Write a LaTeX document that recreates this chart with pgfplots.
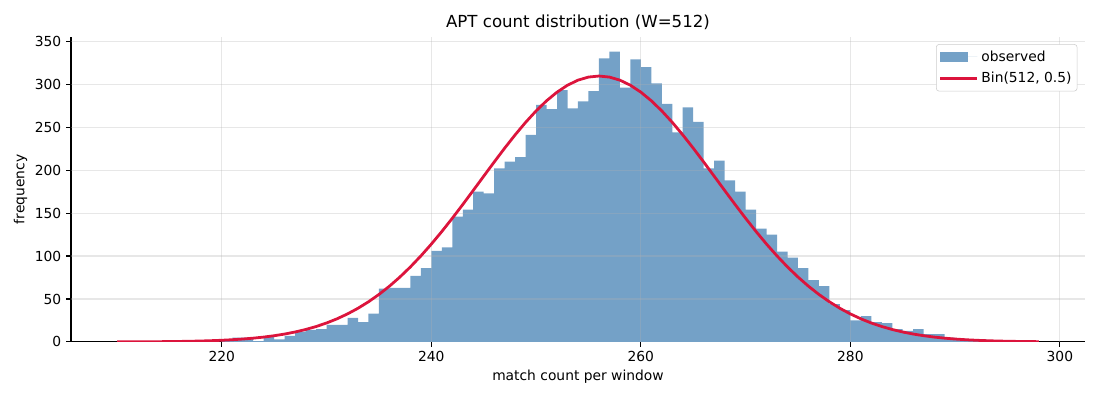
\documentclass[border=0pt]{standalone}
\usepackage{pgfplots}
\pgfplotsset{compat=1.18}
\usepackage{pgfplotstable}
\usepackage{fontspec}
\setmainfont{DejaVu Sans}
\definecolor{barblue}{RGB}{116,161,199}
\definecolor{crim}{RGB}{220,20,60}
\definecolor{gridc}{RGB}{176,176,176}

\pgfplotstableread{
x y
220 1
221 5
222 5
223 1
224 6
225 3
226 7
227 12
228 14
229 15
230 20
231 20
232 28
233 23
234 33
235 62
236 63
237 63
238 77
239 86
240 106
241 110
242 146
243 154
244 175
245 173
246 202
247 210
248 215
249 241
250 276
251 271
252 293
253 272
254 280
255 292
256 330
257 338
258 296
259 329
260 320
261 301
262 277
263 244
264 273
265 256
266 202
267 211
268 188
269 175
270 154
271 132
272 125
273 105
274 98
275 86
276 72
277 65
278 44
279 37
280 25
281 30
282 23
283 22
284 15
285 13
286 15
287 9
288 9
289 5
290 4
291 3
292 3
293 3
}\histdata

\pgfplotstableread{
x y
210 0.08
211 0.11
212 0.16
213 0.23
214 0.32
215 0.44
216 0.60
217 0.81
218 1.10
219 1.48
220 1.96
221 2.59
222 3.39
223 4.40
224 5.67
225 7.25
226 9.20
227 11.58
228 14.48
229 17.94
230 22.07
231 26.94
232 32.62
233 39.20
234 46.73
235 55.28
236 64.87
237 75.56
238 87.30
239 100.09
240 113.86
241 128.52
242 143.93
243 159.94
244 176.35
245 192.92
246 209.42
247 225.56
248 241.04
249 255.59
250 268.90
251 280.70
252 290.75
253 298.81
254 304.70
255 308.29
256 309.50
257 308.29
258 304.70
259 298.81
260 290.75
261 280.70
262 268.90
263 255.59
264 241.04
265 225.56
266 209.42
267 192.92
268 176.35
269 159.94
270 143.93
271 128.52
272 113.86
273 100.09
274 87.30
275 75.56
276 64.87
277 55.28
278 46.73
279 39.20
280 32.62
281 26.94
282 22.07
283 17.94
284 14.48
285 11.58
286 9.20
287 7.25
288 5.67
289 4.40
290 3.39
291 2.59
292 1.96
293 1.48
294 1.10
295 0.81
296 0.60
297 0.44
298 0.32
}\curvedata

\begin{document}
\begin{tikzpicture}
\path[use as bounding box] (0,0) rectangle (792bp,288bp);
\begin{axis}[
  at={(51.1bp,41.8bp)}, anchor=south west,
  scale only axis=true,
  width=730.1bp, height=219.6bp,
  xmin=205.6, xmax=302.4,
  ymin=0, ymax=355,
  xtick={220,240,...,300},
  ytick={0,50,...,350},
  axis x line*=bottom, axis y line*=left,
  axis line style={line width=0.8bp, black},
  every outer x axis line/.append style={-}, every outer y axis line/.append style={-},
  tick align=outside, major tick length=3.5bp,
  tick style={line width=0.8bp, black},
  tick label style={font=\fontsize{10}{12}\selectfont},
  /pgf/number format/assume math mode=true,
  /pgf/number format/1000 sep={},
  every axis title shift=0pt,
  title={APT count distribution (W=512)},
  title style={font=\fontsize{12}{14}\selectfont, at={(axis description cs:0.5,1)}, anchor=center, yshift=10.3bp},
  xlabel={match count per window},
  x label style={font=\fontsize{10}{12}\selectfont, at={(axis description cs:0.5,0)}, anchor=center, yshift=-25.2bp},
  ylabel={frequency},
  y label style={font=\fontsize{10}{12}\selectfont, at={(axis description cs:-0.0496,0.5)}, anchor=center},
  legend style={at={(axis description cs:1,1)}, anchor=north east, xshift=-5.5bp, yshift=-5.2bp,
    draw=black!20, rounded corners=2bp, fill=white, font=\fontsize{10}{12}\selectfont,
    inner xsep=2bp, inner ysep=2.5bp, row sep=2.5bp},
  legend cell align=left,
]
\addplot[const plot mark left, fill=barblue, draw=none,
  legend image code/.code={\fill[barblue, sharp corners] (0bp,-3.3bp) rectangle (20bp,3.3bp); \path (0bp,0bp) -- (26.5bp,0bp);}]
  table[x=x,y=y]{\histdata} \closedcycle;
\addlegendentry{observed}
\pgfplotsinvokeforeach{50,100,150,200,250,300,350}{
  \draw[gridc, opacity=0.3, line width=0.8bp] (axis cs:205.6,#1) -- (axis cs:302.4,#1);
}
\pgfplotsinvokeforeach{220,240,260,280,300}{
  \draw[gridc, opacity=0.3, line width=0.8bp] (axis cs:#1,0) -- (axis cs:#1,355);
}
\addplot[crim, line width=2bp, no marks,
  legend image code/.code={\draw[crim, line width=2bp, sharp corners] (0bp,0bp) -- (20bp,0bp); \path (0bp,0bp) -- (26.5bp,0bp);}]
  table[x=x,y=y]{\curvedata};
\addlegendentry{Bin(512, 0.5)}
\end{axis}
\end{tikzpicture}
\end{document}
